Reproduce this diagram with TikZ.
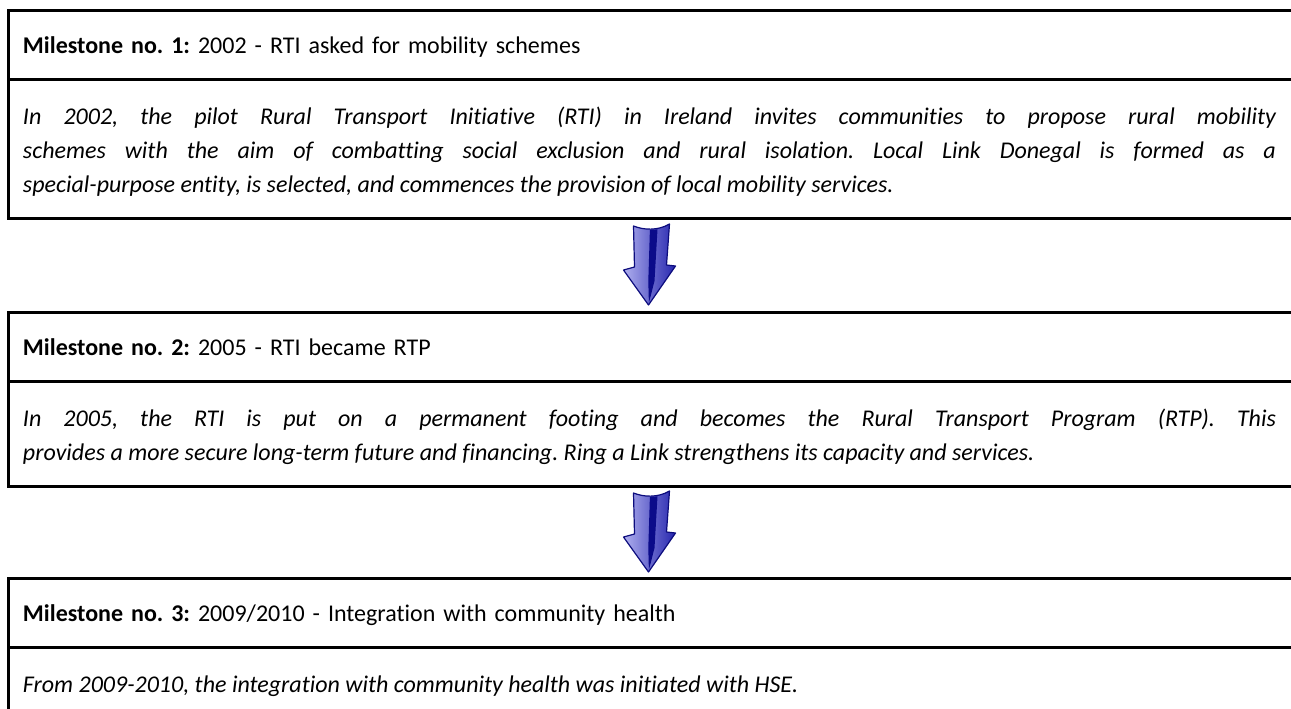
\documentclass[tikz,border=0pt]{standalone}
\usepackage{fontspec}
\setmainfont{Carlito}[Ligatures=NoCommon]
\usetikzlibrary{positioning,calc}
\frenchspacing

\definecolor{arrowblue}{RGB}{45,45,205}
\definecolor{arrowdark}{RGB}{12,12,125}
\definecolor{arrowlight}{RGB}{175,175,238}

% glossy block arrow between two milestones
\tikzset{
  downarrow/.pic={
    \shadedraw[left color=arrowlight, middle color=arrowblue, right color=arrowblue!85!black,
               draw=arrowdark, line width=0.6pt, line join=round]
      (-8,19.5) .. controls (-3,17.5) and (4,17) .. (10,20.5) -- (8.5,0) -- (13,-0.5)
      -- (-0.5,-20) -- (-13,-2.5) -- (-7.5,-1) -- cycle;
    \fill[arrowdark!90!blue] (0.2,17.6) -- (4,17.8) -- (2.5,-8) -- (-0.3,-19) -- (-0.6,-8) -- cycle;
  }
}

\begin{document}
\begin{tikzpicture}[x=1pt, y=1pt,
    head/.style={text width=626.5pt, inner xsep=7.5pt, inner ysep=0pt, outer sep=0pt,
                 text height=21.5pt, text depth=13pt, align=left,
                 font=\fontsize{12}{17}\selectfont},
    body/.style={text width=626.5pt, inner xsep=7.5pt, inner ysep=0pt, outer sep=0pt,
                 text height=22.5pt, align=justify,
                 font=\fontsize{12}{17}\selectfont\itshape},
    rule/.style={line width=1.5pt}]
    \useasboundingbox (0,0) rectangle (645.5,-354);

    \node[head, anchor=north west] (head1) at (4,-5)
        {\textbf{Milestone no. 1:} 2002 - RTI asked for mobility schemes};
    \node[body, text depth=47pt, below=0pt of head1] (body1)
        {In 2002, the pilot Rural Transport Initiative (RTI) in Ireland invites communities to propose rural mobility\linebreak
         schemes with the aim of combatting social exclusion and rural isolation. Local Link Donegal is formed as a\linebreak
         special-purpose entity, is selected, and commences the provision of local mobility services.};

    \node[head, below=47pt of body1] (head2)
        {\textbf{Milestone no. 2:} 2005 - RTI became RTP};
    \node[body, text depth=30pt, below=0pt of head2] (body2)
        {In 2005, the RTI is put on a permanent footing and becomes the Rural Transport Program (RTP). This\linebreak
         provides a more secure long-term future and financing. Ring a Link strengthens its capacity and services.};

    \node[head, below=46pt of body2] (head3)
        {\textbf{Milestone no. 3:} 2009/2010 - Integration with community health};
    \node[body, text depth=13pt, below=0pt of head3] (body3)
        {From 2009-2010, the integration with community health was initiated with HSE.};

    % frames run on past the right edge
    \coordinate (edge) at (660,0);
    \foreach \i in {1,2,3} {
        \draw[rule] (head\i.north west) rectangle (body\i.south -| edge);
        \draw[rule] (head\i.south west) -- (head\i.south -| edge);
    }

    \pic at ($(body1.south)!0.5!(head2.north)$) {downarrow};
    \pic at ($(body2.south)!0.5!(head3.north)$) {downarrow};
\end{tikzpicture}
\end{document}
